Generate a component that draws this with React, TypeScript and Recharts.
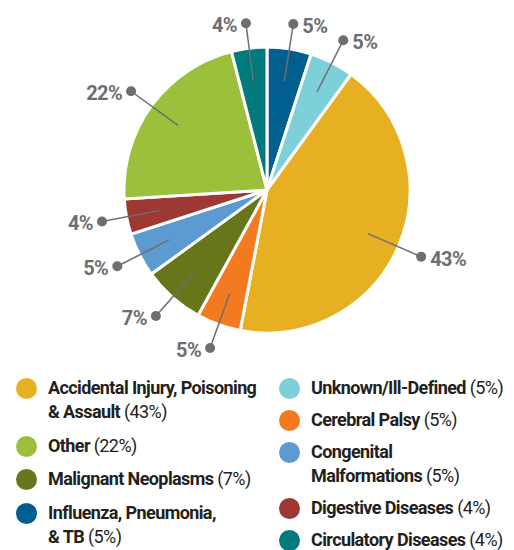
import React from "react";
import { PieChart, Pie, Cell, Legend } from "recharts";

// slices, clockwise from 12 o'clock
const causes = [
  "Influenza, Pneumonia,\n& TB",
  "Unknown/Ill-Defined",
  "Accidental Injury, Poisoning\n& Assault",
  "Cerebral Palsy",
  "Malignant Neoplasms",
  "Congenital\nMalformations",
  "Digestive Diseases",
  "Other",
  "Circulatory Diseases",
];
const shares = [5, 5, 43, 5, 7, 5, 4, 22, 4];
const colors = [
  "#005f8e",
  "#7dd0d9",
  "#e6b022",
  "#f47a20",
  "#67761a",
  "#5c9bd1",
  "#9e3832",
  "#9cc03c",
  "#007a7b",
];

// legend columns (indexes into causes)
const leftCol = [2, 7, 4, 0];
const rightCol = [1, 3, 5, 6, 8];

const data = causes.map((name, i) => ({ name, value: shares[i] }));

const RAD = Math.PI / 180;
const GREY = "#6d6e71";

function SliceLabel(props: any) {
  const { cx, cy, midAngle, value } = props;
  const c = Math.cos(-midAngle * RAD);
  const s = Math.sin(-midAngle * RAD);
  const x1 = cx + 110 * c;
  const y1 = cy + 110 * s;
  const x2 = cx + 168 * c;
  const y2 = cy + 168 * s;
  const right = c >= 0;
  return (
    <g>
      <line x1={x1} y1={y1} x2={x2} y2={y2} stroke={GREY} strokeWidth={1.5} />
      <circle cx={x2} cy={y2} r={5} fill={GREY} />
      <text
        x={right ? x2 + 9 : x2 - 9}
        y={y2 + 2}
        textAnchor={right ? "start" : "end"}
        dominantBaseline="central"
        fill={GREY}
        fontSize={20}
        fontWeight={700}
        letterSpacing={-0.6}
        fontFamily="Roboto, sans-serif"
      >
        {value}%
      </text>
    </g>
  );
}

function LegendItem({ i, gap }: { i: number; gap: number }) {
  return (
    <div style={{ display: "flex", alignItems: "flex-start", marginBottom: gap }}>
      <span
        style={{
          width: 21,
          height: 21,
          borderRadius: 11,
          background: colors[i],
          flex: "none",
          marginTop: 2,
          marginRight: 11,
        }}
      />
      <span style={{ whiteSpace: "pre", lineHeight: "24px" }}>
        <span style={{ fontWeight: 700 }}>{causes[i]}</span>{" "}
        <span>({shares[i]}%)</span>
      </span>
    </div>
  );
}

function LegendBox() {
  return (
    <div
      style={{
        display: "flex",
        fontFamily: "Roboto, sans-serif",
        fontSize: 18,
        letterSpacing: -0.6,
        color: "#231f20",
        textAlign: "left",
      }}
    >
      <div style={{ width: 263, paddingLeft: 8 }}>
        {leftCol.map((i) => (
          <LegendItem key={i} i={i} gap={9.5} />
        ))}
      </div>
      <div>
        {rightCol.map((i) => (
          <LegendItem key={i} i={i} gap={8} />
        ))}
      </div>
    </div>
  );
}

export default function App() {
  return (
    <PieChart
      width={506}
      height={542}
      margin={{ top: 0, right: 0, bottom: 0, left: 0 }}
    >
      <Pie
        data={data}
        dataKey="value"
        nameKey="name"
        cx={259}
        cy={182}
        outerRadius={143}
        startAngle={90}
        endAngle={-270}
        stroke="#fff"
        strokeWidth={3}
        label={SliceLabel}
        labelLine={false}
        isAnimationActive={false}
      >
        {data.map((d, i) => (
          <Cell key={d.name} fill={colors[i]} />
        ))}
      </Pie>
      <Legend
        content={() => <LegendBox />}
        wrapperStyle={{ top: 368, left: 0, width: 506 }}
      />
    </PieChart>
  );
}
